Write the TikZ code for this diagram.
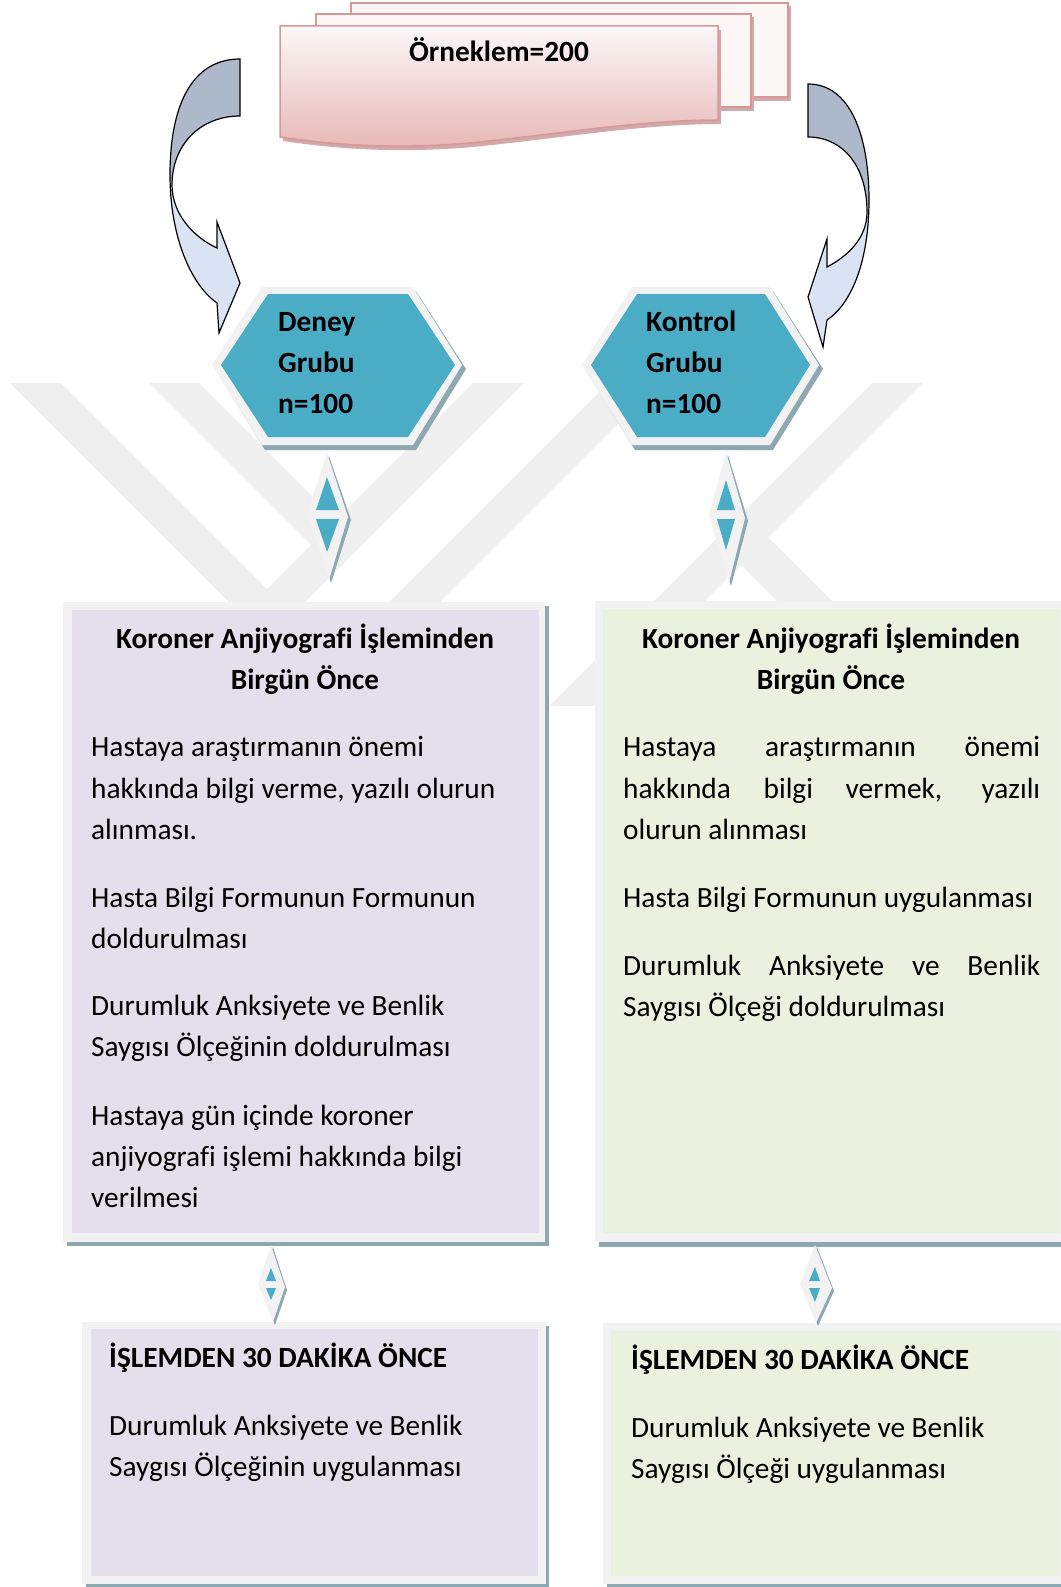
\documentclass[tikz,border=0pt]{standalone}
\usepackage{fontspec}
\setmainfont{Carlito}[Ligatures=NoCommon]
\usetikzlibrary{calc}
\definecolor{wm}{RGB}{239,239,239}
\definecolor{framec}{RGB}{242,242,242}
\definecolor{shad}{RGB}{141,168,176}
\definecolor{hexblue}{RGB}{75,172,198}
\definecolor{lilac}{RGB}{228,223,236}
\definecolor{mint}{RGB}{234,241,222}
\definecolor{pinkline}{RGB}{217,150,148}
\definecolor{pinkshadow}{RGB}{208,170,170}
\definecolor{pinktop}{RGB}{252,247,247}
\definecolor{pinkbot}{RGB}{230,184,183}
\definecolor{arrgray}{RGB}{173,185,202}
\definecolor{arrblue}{RGB}{218,227,243}
\newcommand\bodysize{\fontsize{29.33pt}{41.2pt}\selectfont}
\newcommand\jline[1]{\makebox[417pt][s]{#1}}
\begin{document}
\begin{tikzpicture}[x=1pt,y=-1pt,
  line/.style={anchor=base west, inner sep=0pt, font=\bodysize},
  bline/.style={anchor=base west, inner sep=0pt, font=\bodysize\bfseries},
  head/.style={anchor=base, inner sep=0pt, font=\bodysize\bfseries},
  outl/.style={draw=black, line width=1.2pt, line join=miter}]
\useasboundingbox (0,0) rectangle (1060,1587);

% ---------- watermark ----------
\begin{scope}
\clip (0,383) rectangle (1060,705);
\fill[wm] (10,383) -- (61,383) -- (291,613) -- (240,613) -- cycle;
\fill[wm] (473,383) -- (524,383) -- (294,613) -- (243,613) -- cycle;
\fill[wm] (149,383) -- (199,383) -- (336,520) -- (311,545) -- cycle;
\fill[wm] (608,383) -- (659,383) -- (429,613) -- (378,613) -- cycle;
\fill[wm] (872,383) -- (923,383) -- (583,723) -- (532,723) -- cycle;
\fill[wm] (739,563) -- (766,535) -- (844,613) -- (789,613) -- cycle;
\end{scope}

% ---------- document stack ----------
\fill[pinkshadow] (354,6) rectangle (791,101);
\filldraw[fill=pinktop, draw=pinkline, line width=1.5pt] (351,3) rectangle (788,97);
\fill[pinkshadow] (319,17) rectangle (754,111);
\filldraw[fill=pinktop, draw=pinkline, line width=1.5pt] (316,14) rectangle (751,107);
\begin{scope}[shift={(3,4)}]
\fill[pinkshadow] (280,26) -- (718,26) -- (718,120) .. controls (640,120) and (560,134) .. (470,143) .. controls (400,149) and (340,146) .. (280,137) -- cycle;
\end{scope}
\shade[top color=pinktop, bottom color=pinkbot] (280,26) -- (718,26) -- (718,120) .. controls (640,120) and (560,134) .. (470,143) .. controls (400,149) and (340,146) .. (280,137) -- cycle;
\draw[pinkline, line width=1.5pt] (280,26) -- (718,26) -- (718,120) .. controls (640,120) and (560,134) .. (470,143) .. controls (400,149) and (340,146) .. (280,137) -- cycle;
\node[head] (orn) at (499,62) {Örneklem=200};

% ---------- curved arrows ----------
\newcommand\arrL{(240,59) .. controls (195,59) and (170,100) .. (170,175) .. controls (170,235) and (190,284) .. (217,303) -- (219,333) -- (240,283) -- (217,222) -- (217,248) .. controls (195,238) and (172,215) .. (172,185) .. controls (172,145) and (200,116) .. (240,116) -- cycle}
\newcommand\arrR{(808,84) .. controls (850,84) and (869,135) .. (869,200) .. controls (869,264) and (850,305) .. (827,320) -- (823,347) -- (808,297) -- (827,239) -- (827,267) .. controls (848,256) and (867,238) .. (867,212) .. controls (867,165) and (842,137) .. (808,137) -- cycle}
\fill[arrblue] \arrL;
\begin{scope}\clip (0,0) rectangle (1060,180); \fill[arrgray] \arrL; \end{scope}
\draw[outl] \arrL;
\fill[arrblue] \arrR;
\begin{scope}\clip (0,0) rectangle (1060,205); \fill[arrgray] \arrR; \end{scope}
\draw[outl] \arrR;

% ---------- hexagons ----------
\fill[shad] (215,369) -- (265,291) -- (416,291) -- (466,369) -- (416,450) -- (265,450) -- cycle;
\fill[framec] (212,365) -- (262,287) -- (413,287) -- (462,365) -- (413,445) -- (262,445) -- cycle;
\fill[hexblue] (221,365) -- (268,294) -- (408,294) -- (455,365) -- (408,437) -- (268,437) -- cycle;
\fill[shad] (585,369) -- (635,291) -- (773,291) -- (823,369) -- (773,450) -- (635,450) -- cycle;
\fill[framec] (582,365) -- (632,287) -- (770,287) -- (819,365) -- (770,445) -- (632,445) -- cycle;
\fill[hexblue] (591,365) -- (637,294) -- (765,294) -- (810,365) -- (765,437) -- (637,437) -- cycle;
\node[bline] (d1) at (278,331) {Deney};
\node[bline] (d2) at (278,372) {Grubu};
\node[bline] (d3) at (278,413) {n=100};
\node[bline] (k1) at (646,331) {Kontrol};
\node[bline] (k2) at (646,372) {Grubu};
\node[bline] (k3) at (646,413) {n=100};

% ---------- boxes ----------
\fill[shad] (67,606) rectangle (549,1246);
\fill[framec] (63,602) rectangle (545,1242);
\fill[lilac] (72,610) rectangle (539,1233);
\fill[shad] (599,605) rectangle (1065,1247);
\fill[framec] (595,601) rectangle (1068,1242);
\fill[mint] (603,609) rectangle (1060,1233);
\fill[shad] (86,1326) rectangle (549,1590);
\fill[framec] (82,1322) rectangle (546,1584);
\fill[lilac] (91,1329) rectangle (538,1576);
\fill[shad] (607,1327) rectangle (1065,1590);
\fill[framec] (603,1323) rectangle (1068,1584);
\fill[mint] (611,1331) rectangle (1060,1576);

% ---------- up-down diamonds ----------
\fill[shad] (329,456) -- (351,520) -- (331,583) -- (309,516) -- cycle;
\fill[framec] (327,453) -- (348,517) -- (329,580) -- (307,513) -- cycle;
\fill[hexblue] (327,477) -- (339,510) -- (316,510) -- cycle;
\fill[hexblue] (316,519) -- (339,519) -- (327,552) -- cycle;
\fill[shad] (728,455) -- (748,521) -- (731,586) -- (711,518) -- cycle;
\fill[framec] (726,452) -- (745,518) -- (729,583) -- (709,515) -- cycle;
\fill[hexblue] (726,480) -- (735,510) -- (717,510) -- cycle;
\fill[hexblue] (717,519) -- (735,519) -- (726,550) -- cycle;
\fill[shad] (273,1247) -- (287,1290) -- (275,1325) -- (260,1287) -- cycle;
\fill[framec] (271,1245) -- (285,1287) -- (273,1322) -- (258,1284) -- cycle;
\fill[hexblue] (271,1268) -- (276,1281) -- (266,1281) -- cycle;
\fill[hexblue] (266,1288) -- (276,1288) -- (271,1300) -- cycle;
\fill[shad] (817,1247) -- (834,1291) -- (818,1326) -- (802,1287) -- cycle;
\fill[framec] (815,1245) -- (832,1288) -- (816,1323) -- (800,1284) -- cycle;
\fill[hexblue] (815,1267) -- (820,1281) -- (809,1281) -- cycle;
\fill[hexblue] (809,1288) -- (820,1288) -- (815,1302) -- cycle;

% ---------- texts: left upper ----------
\node[head] (lt1) at (305,648) {Koroner Anjiyograf\kern0pt i İşleminden};
\node[head] (lt2) at (305,689) {Birgün Önce};
\node[line] (l1) at (91,756) {Hastaya araştırmanın önemi};
\node[line] (l2) at (91,798) {hakkında bilgi verme, yazılı olurun};
\node[line] (l3) at (91,839) {alınması.};
\node[line] (l4) at (91,907) {Hasta Bilgi Formunun Formunun};
\node[line] (l5) at (91,948) {doldurulması};
\node[line] (l6) at (91,1015) {Durumluk Anksiyete ve Benlik};
\node[line] (l7) at (91,1056) {Saygısı Ölçeğinin doldurulması};
\node[line] (l8) at (91,1125) {Hastaya gün içinde koroner};
\node[line] (l9) at (91,1166) {anjiyograf\kern0pt i işlemi hakkında bilgi};
\node[line] (l10) at (91,1207) {verilmesi};

% ---------- texts: right upper ----------
\node[head] (rt1) at (831,648) {Koroner Anjiyograf\kern0pt i İşleminden};
\node[head] (rt2) at (831,689) {Birgün Önce};
\node[line] (r1) at (623,756) {\jline{Hastaya araştırmanın önemi}};
\node[line] (r2) at (623,798) {\jline{hakkında bilgi vermek, yazılı}};
\node[line] (r3) at (623,839) {olurun alınması};
\node[line] (r4) at (623,907) {Hasta Bilgi Formunun uygulanması};
\node[line] (r5) at (623,975) {\jline{Durumluk Anksiyete ve Benlik}};
\node[line] (r6) at (623,1016) {Saygısı Ölçeği doldurulması};

% ---------- texts: lower boxes ----------
\node[bline] (lb0) at (109,1367) {İŞLEMDEN 30 DAKİKA ÖNCE};
\node[line] (lb1) at (109,1435) {Durumluk Anksiyete ve Benlik};
\node[line] (lb2) at (109,1476) {Saygısı Ölçeğinin uygulanması};
\node[bline] (rb0) at (631,1369) {İŞLEMDEN 30 DAKİKA ÖNCE};
\node[line] (rb1) at (631,1437) {Durumluk Anksiyete ve Benlik};
\node[line] (rb2) at (631,1478) {Saygısı Ölçeği uygulanması};
\end{tikzpicture}
\end{document}
